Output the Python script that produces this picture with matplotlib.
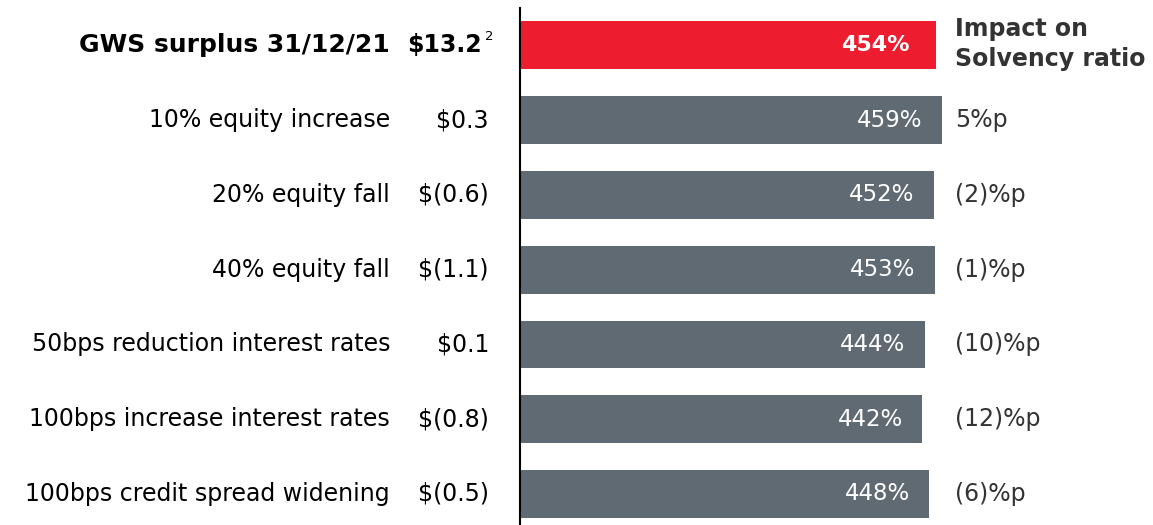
import numpy as np
import matplotlib.pyplot as plt
from matplotlib import transforms

plt.rcParams['font.family'] = ['DejaVu Sans']

# sensitivities of the GWS solvency position
scenarios = ['GWS surplus 31/12/21', '10% equity increase', '20% equity fall',
             '40% equity fall', '50bps reduction interest rates',
             '100bps increase interest rates', '100bps credit spread widening']
surplus = ['$13.2', '$0.3', '$(0.6)', '$(1.1)', '$0.1', '$(0.8)', '$(0.5)']
ratio = [454, 459, 452, 453, 444, 442, 448]
impact = ['', '5%p', '(2)%p', '(1)%p', '(10)%p', '(12)%p', '(6)%p']

red = '#ED1C2E'
grey = '#5F6A72'
dark = '#333333'

fig = plt.figure(figsize=(11.53, 5.25), dpi=100)
ax = fig.add_axes([520 / 1153, 0.0, 633 / 1153, 1 - 8 / 525])

ind = np.arange(len(scenarios))
colors = [red] + [grey] * (len(scenarios) - 1)
bars = ax.barh(ind, ratio, height=0.64, color=colors, left=0)

ax.set_xlim(86, 646)
ax.set_ylim(6.415, -0.5)
for s in ['top', 'right', 'bottom']:
    ax.spines[s].set_visible(False)
ax.spines['left'].set_linewidth(1.5)
ax.set_xticks([])
ax.set_yticks([])

# mixed transform: x in figure fraction, y in data rows
tr = transforms.blended_transform_factory(fig.transFigure, ax.transData)
fs = 17

for i, rect in enumerate(bars):
    bold = 'bold' if i == 0 else 'normal'
    ax.text(390 / 1153, i, scenarios[i], transform=tr, ha='right', va='center',
            fontsize=18 if i == 0 else fs, fontweight=bold, color='black')
    if i == 0:
        ax.text(482 / 1153, i, surplus[i], transform=tr, ha='right', va='center',
                fontsize=fs, fontweight='bold', color='black')
        ax.text(485 / 1153, i - 0.12, '2', transform=tr, ha='left', va='center',
                fontsize=9.5, color='black')
    else:
        ax.text(489 / 1153, i, surplus[i], transform=tr, ha='right', va='center',
                fontsize=fs, color='black')

    ax.annotate('%d%%' % ratio[i], xy=(rect.get_width(), i), xytext=(-14 if i else -19, 0),
                textcoords='offset points', ha='right', va='center',
                fontsize=16.5 if i else 16, fontweight=bold, color='white')

    if impact[i]:
        ax.text(955 / 1153, i, impact[i], transform=tr, ha='left', va='center',
                fontsize=fs, color=dark)

ax.text(955 / 1153, -0.02, 'Impact on\nSolvency ratio', transform=tr, ha='left',
        va='center', fontsize=fs, fontweight='bold', color=dark, linespacing=1.3)

fig.savefig('out.png', dpi=100)
